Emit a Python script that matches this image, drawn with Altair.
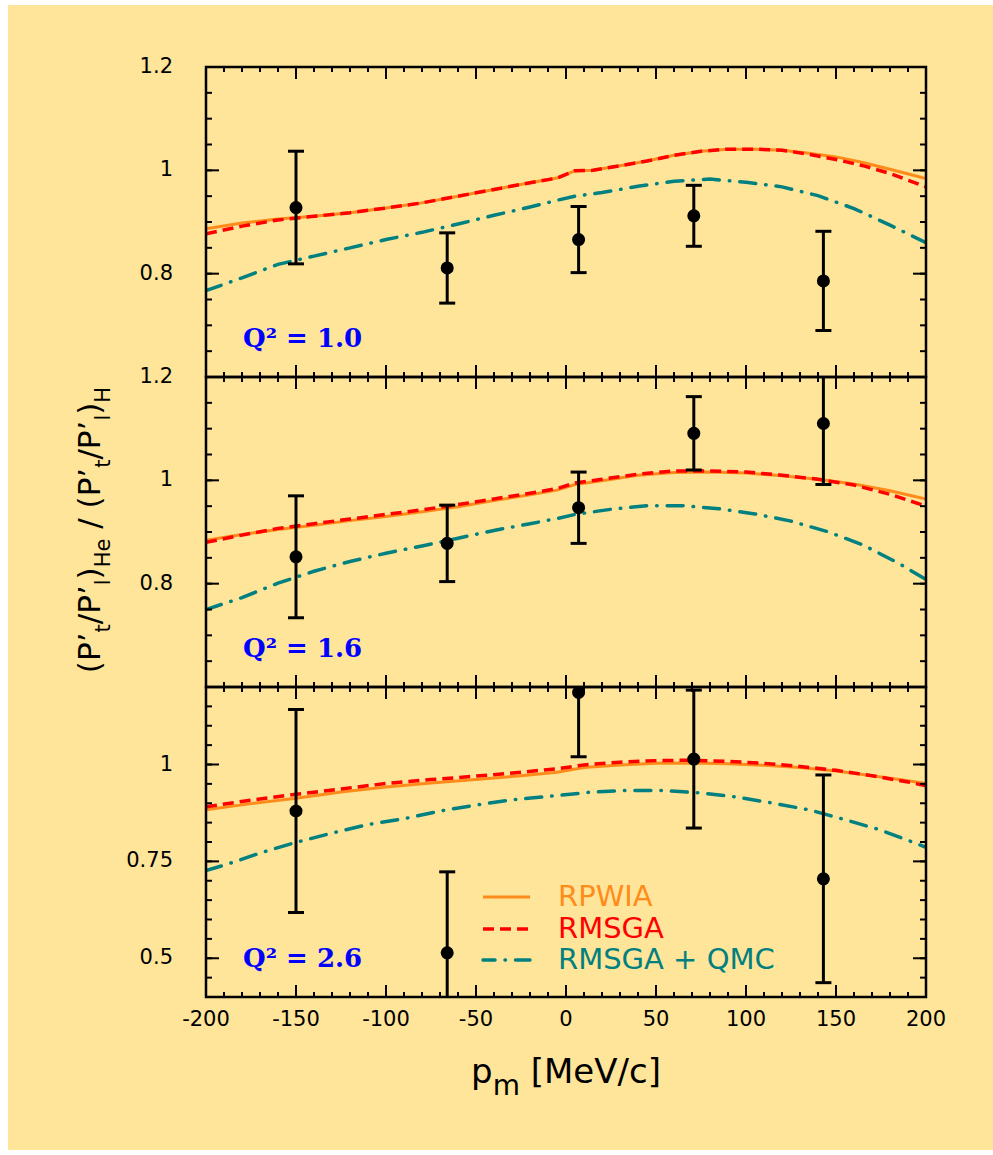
import altair as alt
import pandas as pd

# ---------------------------------------------------------------
# Polarization-transfer double ratio vs. missing momentum p_m
# three Q^2 settings, each with data and three model curves
# ---------------------------------------------------------------

# data points (p_m in MeV/c)
pts_x = [-150, -66, 7, 71, 143]

q10_val = [0.928, 0.811, 0.866, 0.912, 0.786]
q10_err = [0.109, 0.068, 0.064, 0.059, 0.096]

q16_val = [0.852, 0.878, 0.947, 1.091, 1.110]
q16_err = [0.118, 0.074, 0.069, 0.071, 0.118]

q26_val = [0.880, 0.514, 1.186, 1.014, 0.705]
q26_err = [0.262, 0.209, 0.166, 0.178, 0.268]

# model curves, Q^2 = 1.0
q10_x = [-200, -180, -160, -140, -120, -100, -80, -60, -40, -20, -5, 5, 15,
         30, 45, 60, 75, 90, 105, 120, 135, 150, 165, 180, 200]
q10_rpwia = [0.887, 0.898, 0.906, 0.911, 0.918, 0.927, 0.937, 0.950, 0.963,
             0.976, 0.985, 0.999, 1.000, 1.009, 1.018, 1.029, 1.037, 1.041,
             1.041, 1.039, 1.033, 1.026, 1.015, 1.002, 0.984]
q10_rmsga = [0.877, 0.892, 0.904, 0.911, 0.918, 0.927, 0.937, 0.950, 0.963,
             0.976, 0.985, 0.999, 1.000, 1.009, 1.018, 1.029, 1.037, 1.041,
             1.041, 1.039, 1.031, 1.021, 1.009, 0.994, 0.968]
q10_qmc_x = [-200, -180, -160, -140, -120, -100, -80, -60, -40, -20, -5, 5,
             20, 40, 60, 80, 100, 120, 140, 160, 180, 200]
q10_qmc = [0.767, 0.792, 0.818, 0.834, 0.850, 0.866, 0.880, 0.896, 0.913,
           0.929, 0.942, 0.950, 0.957, 0.969, 0.979, 0.983, 0.977, 0.968,
           0.951, 0.926, 0.894, 0.860]

# model curves, Q^2 = 1.6
q16_x = [-200, -180, -160, -140, -120, -100, -80, -60, -40, -20, -5, 5, 20,
         40, 60, 80, 100, 120, 140, 160, 180, 200]
q16_rpwia = [0.884, 0.895, 0.905, 0.913, 0.922, 0.930, 0.939, 0.949, 0.961,
             0.972, 0.981, 0.992, 0.999, 1.010, 1.015, 1.016, 1.014, 1.009,
             1.002, 0.993, 0.980, 0.964]
q16_rmsga = [0.880, 0.894, 0.907, 0.916, 0.925, 0.934, 0.943, 0.953, 0.964,
             0.975, 0.984, 0.995, 1.002, 1.012, 1.018, 1.018, 1.016, 1.010,
             1.002, 0.991, 0.973, 0.950]
q16_qmc_x = [-200, -180, -160, -140, -120, -100, -80, -60, -40, -20, -5, 5,
             25, 45, 65, 85, 105, 125, 145, 165, 185, 200]
q16_qmc = [0.750, 0.773, 0.801, 0.824, 0.843, 0.859, 0.873, 0.888, 0.903,
           0.916, 0.926, 0.934, 0.944, 0.951, 0.951, 0.945, 0.935, 0.921,
           0.901, 0.875, 0.839, 0.808]

# model curves, Q^2 = 2.6
q26_x = [-200, -175, -150, -125, -100, -75, -50, -25, -5, 10, 30, 50, 70,
         90, 110, 130, 150, 170, 190, 200]
q26_rpwia = [0.883, 0.899, 0.913, 0.929, 0.942, 0.952, 0.961, 0.971, 0.980,
             0.992, 0.999, 1.003, 1.004, 1.002, 0.998, 0.992, 0.983, 0.971,
             0.958, 0.951]
q26_rmsga = [0.891, 0.908, 0.923, 0.937, 0.951, 0.961, 0.970, 0.980, 0.989,
             0.999, 1.006, 1.010, 1.011, 1.008, 1.003, 0.995, 0.985, 0.971,
             0.955, 0.945]
q26_qmc_x = [-200, -188, -169, -150, -130, -110, -90, -70, -49, -30, -9, 12,
             33, 53, 74, 95, 114, 135, 154, 174, 193, 200]
q26_qmc = [0.726, 0.743, 0.773, 0.799, 0.823, 0.845, 0.860, 0.880, 0.896,
           0.909, 0.918, 0.928, 0.933, 0.933, 0.927, 0.916, 0.901, 0.883,
           0.859, 0.832, 0.799, 0.786]

# axis ticks and labels
x_major = [-200, -150, -100, -50, 0, 50, 100, 150, 200]
x_minor = [v for v in range(-200, 201, 10) if v % 50 != 0]
x_labels = ["-200", "-150", "-100", "-50", "0", "50", "100", "150", "200"]
y_major_a = [0.6, 0.8, 1.0, 1.2]
y_minor_a = [round(0.6 + 0.05 * i, 2) for i in range(13)]
y_label_vals_a = [0.8, 1.0, 1.2]
y_labels_a = ["0.8", "1", "1.2"]
y_major_b = [0.5, 0.75, 1.0]
y_minor_b = [round(0.4 + 0.05 * i, 2) for i in range(17)]
y_label_vals_b = [0.5, 0.75, 1.0]
y_labels_b = ["0.5", "0.75", "1"]

series_names = ["RPWIA", "RMSGA", "RMSGA + QMC"]
panel_labels = ["Q\u00b2 = 1.0", "Q\u00b2 = 1.6", "Q\u00b2 = 2.6"]

# ---------------------------------------------------------------
FONT = "DejaVu Sans"
BG = "#FFE599"
ORANGE = "#FF8C1A"
RED = "#FF0000"
TEAL = "#008080"
BLUE = "#0000FF"
W, H = 720, 310
TICK_FS = 21

STYLES = {
    "RPWIA": dict(color=ORANGE, strokeWidth=3),
    "RMSGA": dict(color=RED, strokeWidth=3.5, strokeDash=[11, 6]),
    "RMSGA + QMC": dict(color=TEAL, strokeWidth=3.5,
                        strokeDash=[16, 10, 0.5, 10], strokeCap="round"),
}
TEXT_COLORS = {"RPWIA": ORANGE, "RMSGA": RED, "RMSGA + QMC": TEAL}

# DejaVu Sans advance widths (em) used to chain the title pieces
ADV = {" ": 0.318, "(": 0.390, ")": 0.390, "/": 0.337, "P": 0.603,
       "H": 0.752, "e": 0.615, "t": 0.392, "l": 0.278, "\u2019": 0.318,
       "[": 0.390, "]": 0.390, "M": 0.863, "V": 0.684, "c": 0.550,
       "p": 0.635, "m": 0.974}


def text_width(s, size):
    return sum(ADV[c] for c in s) * size


ONE = pd.DataFrame({"a": [0]})
xs = alt.Scale(domain=[-200, 200], nice=False, zero=False)


def fixed_text(text, x, y, size, color="black", angle=0, align="left",
               baseline="alphabetic", font=FONT, weight="normal"):
    return alt.Chart(ONE).mark_text(
        text=text, font=font, fontSize=size, fontWeight=weight, color=color,
        angle=angle, align=align, baseline=baseline,
    ).encode(x=alt.value(x), y=alt.value(y))


def panel(curves, vals, errs, ydom, ymajor, yminor, ylab_vals, ylabs, label,
          extra=(), bottom_labels=False, background=False):
    ys = alt.Scale(domain=ydom, nice=False, zero=False)
    layers = []
    if background:
        layers.append(
            alt.Chart(ONE).mark_rect(fill=BG).encode(
                x=alt.value(-198), x2=alt.value(787),
                y=alt.value(-62), y2=alt.value(1083))
        )
    # model curves
    for name, (cx, cy) in zip(series_names, curves):
        df = pd.DataFrame({"x": cx, "y": cy})
        layers.append(
            alt.Chart(df).mark_line(clip=True, **STYLES[name]).encode(
                x=alt.X("x:Q", scale=xs, axis=None),
                y=alt.Y("y:Q", scale=ys, axis=None))
        )
    # data with error bars
    pts = pd.DataFrame({
        "x": pts_x, "y": vals,
        "lo": [v - e for v, e in zip(vals, errs)],
        "hi": [v + e for v, e in zip(vals, errs)],
    })
    base = alt.Chart(pts)
    layers.append(base.mark_rule(clip=True, color="black", strokeWidth=3).encode(
        x=alt.X("x:Q", scale=xs, axis=None),
        y=alt.Y("lo:Q", scale=ys, axis=None), y2="hi:Q"))
    for end in ["lo", "hi"]:
        layers.append(base.mark_tick(clip=True, color="black", orient="horizontal",
                                     size=16, thickness=3, opacity=1).encode(
            x=alt.X("x:Q", scale=xs, axis=None),
            y=alt.Y(f"{end}:Q", scale=ys, axis=None)))
    layers.append(base.mark_circle(color="black", size=170, opacity=1).encode(
        x=alt.X("x:Q", scale=xs, axis=None),
        y=alt.Y("y:Q", scale=ys, axis=None)))

    # inward ticks on all four sides
    tick_style = dict(color="black", strokeWidth=2)
    ymaj = alt.Chart(pd.DataFrame({"v": ymajor}))
    ymin = alt.Chart(pd.DataFrame({"v": yminor}))
    xmaj = alt.Chart(pd.DataFrame({"v": x_major, "lab": x_labels}))
    xmin = alt.Chart(pd.DataFrame({"v": x_minor}))
    Yv = alt.Y("v:Q", scale=ys, axis=None)
    Xv = alt.X("v:Q", scale=xs, axis=None)
    layers += [
        ymaj.mark_rule(**tick_style).encode(y=Yv, x=alt.value(0), x2=alt.value(13)),
        ymaj.mark_rule(**tick_style).encode(y=Yv, x=alt.value(W), x2=alt.value(W - 13)),
        ymin.mark_rule(**tick_style).encode(y=Yv, x=alt.value(0), x2=alt.value(6)),
        ymin.mark_rule(**tick_style).encode(y=Yv, x=alt.value(W), x2=alt.value(W - 6)),
        xmaj.mark_rule(**tick_style).encode(x=Xv, y=alt.value(H), y2=alt.value(H - 12)),
        xmaj.mark_rule(**tick_style).encode(x=Xv, y=alt.value(0), y2=alt.value(12)),
        xmin.mark_rule(**tick_style).encode(x=Xv, y=alt.value(H), y2=alt.value(H - 5)),
        xmin.mark_rule(**tick_style).encode(x=Xv, y=alt.value(0), y2=alt.value(5)),
    ]
    # tick labels
    ylab_df = pd.DataFrame({"v": ylab_vals, "lab": ylabs})
    layers.append(alt.Chart(ylab_df).mark_text(
        font=FONT, fontSize=TICK_FS, color="black", align="right", baseline="middle"
    ).encode(y=Yv, x=alt.value(-33), text="lab:N"))
    if bottom_labels:
        layers.append(xmaj.mark_text(
            font=FONT, fontSize=TICK_FS, color="black", align="center", baseline="top"
        ).encode(x=Xv, y=alt.value(H + 12), text="lab:N"))
    # frame
    layers.append(alt.Chart(ONE).mark_rect(fillOpacity=0, stroke="black",
                                           strokeWidth=2.5).encode(
        x=alt.value(0), x2=alt.value(W), y=alt.value(0), y2=alt.value(H)))
    # Q^2 tag
    layers.append(fixed_text(label, 37, 280, 26, color=BLUE,
                             font="DejaVu Serif", weight="bold"))
    layers += list(extra)
    return alt.layer(*layers).properties(width=W, height=H)


# vertical axis title, built from pieces so the subscripts sit low
def y_title_layers():
    main, sub, shift = 31, 21, 10
    pieces = [("(P\u2019", main, 0), ("t", sub, shift), ("/P\u2019", main, 0),
              ("l", sub, shift), (")", main, 0), ("He", sub, shift),
              (" ", main, None), ("/ (P\u2019", main, 0), ("t", sub, shift),
              ("/P\u2019", main, 0), ("l", sub, shift), (")", main, 0),
              ("H", sub, shift)]
    total = sum(text_width(s, z) for s, z, _ in pieces)
    base_x, start_y = -106, 153 + total / 2
    out, pos = [], 0.0
    for s, z, sh in pieces:
        if sh is not None:
            out.append(fixed_text(s, base_x + sh, start_y - pos, z, angle=270))
        pos += text_width(s, z)
    return out


# horizontal axis title p_m [MeV/c]
def x_title_layers():
    main, sub = 34, 28
    pieces = [("p", main, 0), ("m", sub, 12), (" ", main, None),
              ("[MeV/c]", main, 0)]
    total = sum(text_width(s, z) for s, z, _ in pieces)
    x0, base_y = W / 2 - total / 2, 396
    out, pos = [], 0.0
    for s, z, sh in pieces:
        if sh is not None:
            out.append(fixed_text(s, x0 + pos, base_y + sh, z))
        pos += text_width(s, z)
    return out


def legend_layers():
    out = []
    for name, ry in zip(series_names, [210, 242, 273]):
        st = dict(STYLES[name])
        if name == "RMSGA + QMC":
            st["strokeDashOffset"] = 4
        out.append(alt.Chart(ONE).mark_rule(**st).encode(
            x=alt.value(277), x2=alt.value(324), y=alt.value(ry)))
        out.append(fixed_text(name, 352, ry, 29, color=TEXT_COLORS[name],
                              baseline="middle"))
    return out


p1 = panel([(q10_x, q10_rpwia), (q10_x, q10_rmsga), (q10_qmc_x, q10_qmc)],
           q10_val, q10_err, [0.6, 1.2], y_major_a, y_minor_a,
           y_label_vals_a, y_labels_a, panel_labels[0], background=True)
p2 = panel([(q16_x, q16_rpwia), (q16_x, q16_rmsga), (q16_qmc_x, q16_qmc)],
           q16_val, q16_err, [0.6, 1.2], y_major_a, y_minor_a,
           y_label_vals_a, y_labels_a, panel_labels[1], extra=y_title_layers())
p3 = panel([(q26_x, q26_rpwia), (q26_x, q26_rmsga), (q26_qmc_x, q26_qmc)],
           q26_val, q26_err, [0.4, 1.2], y_major_b, y_minor_b,
           y_label_vals_b, y_labels_b, panel_labels[2],
           extra=legend_layers() + x_title_layers(), bottom_labels=True)

chart = alt.vconcat(p1, p2, p3, spacing=0, bounds="flush").resolve_scale(
    y="independent"
).properties(
    padding={"left": 8, "top": 5, "right": 0, "bottom": 5},
    background="white",
).configure_view(stroke=None)

chart.save("out.html", embed_options={"renderer": "svg", "actions": False})
